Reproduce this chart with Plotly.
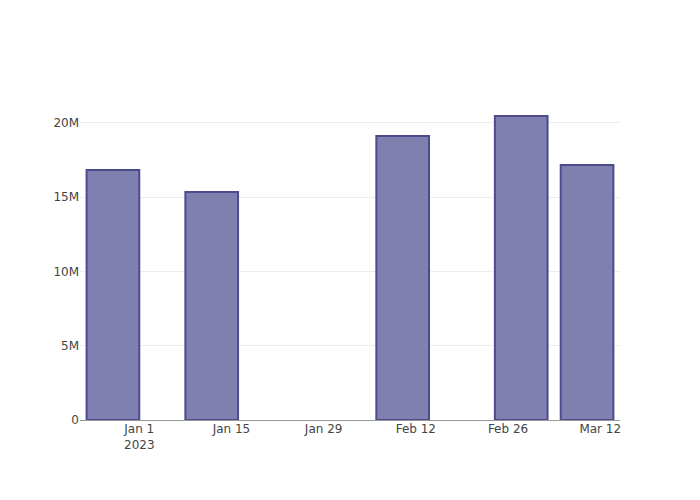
import plotly.graph_objects as go

dates = ["2022-12-28", "2023-01-12", "2023-02-10", "2023-02-28", "2023-03-10"]
values = [16.84e6, 15.35e6, 19.12e6, 20.47e6, 17.17e6]

fig = go.Figure(
    go.Bar(
        x=dates,
        y=values,
        marker=dict(color="#7f7fb0", line=dict(color="#4c4c8c", width=2)),
    )
)
fig.update_layout(
    template="none",
    width=700,
    height=500,
    margin=dict(l=72, r=88, t=92, b=88),
    font=dict(family="DejaVu Sans, sans-serif", size=12, color="#444"),
)
fig.update_xaxes(range=["2022-12-23", "2023-03-15"])
fig.update_yaxes(zerolinecolor="#999")
fig.write_html("out.html")
